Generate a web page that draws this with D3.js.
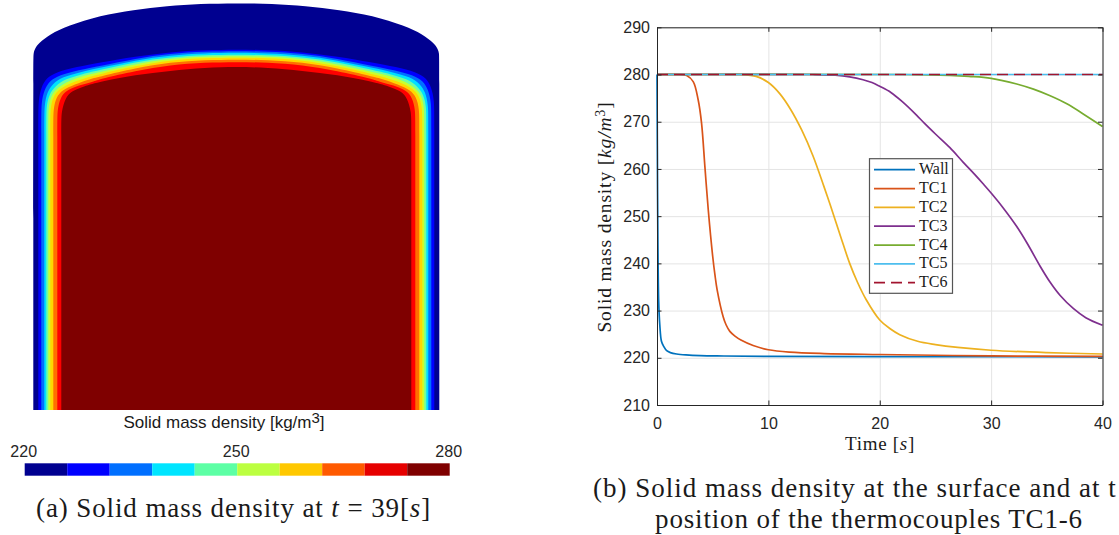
<!DOCTYPE html>
<html>
<head>
<meta charset="utf-8">
<script src="https://cdn.jsdelivr.net/npm/d3@7"></script>
<style>
  body { margin: 0; background: #fff; }
  svg { display: block; }
  .tick text { font-family: "Liberation Sans", sans-serif; font-size: 16px; fill: #262626; }
  .cap { font-family: "Liberation Serif", serif; fill: #1a1a1a; }
</style>
</head>
<body>
<svg id="fig" width="1119" height="535"></svg>
<script>

// left panel, colour levels and contours: [radius, height]
var levelColors = ['#000090','#0000ff','#006fff','#00e5ff','#5dffa5','#bcff40','#ffc800','#ff5a00','#e60000','#7f0000'];
var fieldColors = ['#000090','#0000ff','#0070ff','#00e0ff','#70ffa0','#c8ff30','#ffd800','#ff7000','#ff0000','#7f0000'];
var levelEdges = [220,226,232,238,244,250,256,262,268,274,280];
var barTicks = [220,250,280];

var bodyOutline = [[203,0],[203,200],[203,350],[202.8,357],[201.5,361],[198,366.5],[186,376],[169,384],[136,394.5],[103,400],[69,404],[36,406.2],[0,406.8]];
var contour226 = [[198,0],[198,200],[198,290],[198,310],[195,323],[190,332],[180,338],[160,343],[136,347.5],[101,353.5],[66,358],[31,360],[0,360.5]];
var contour232 = [[195,0],[195,200],[195,288],[195,308],[192,320],[187,329],[177,335],[158,340],[136,344],[101,351.5],[66,356.5],[31,358.5],[0,359]];
var contour238 = [[192,0],[192,200],[192,288],[192,305],[189,318],[184,326],[174,333],[156,338],[136,342],[101,349.8],[66,354.8],[31,356.8],[0,357.3]];
var contour244 = [[190,0],[190,200],[190,287],[190,304],[187,316],[181,324],[171,331],[154,336],[136,340],[101,348],[66,353],[31,355],[0,355.5]];
var contour250 = [[188,0],[188,200],[188,287],[188,303],[185,315],[179,322],[168,329],[152,334.5],[136,338],[101,346],[66,351.5],[31,353.5],[0,354]];
var contour256 = [[186,0],[186,200],[186,286],[186,302],[183,314],[177,321],[165,327.5],[148,333],[136,336],[101,344],[66,350],[31,352],[0,352.5]];
var contour262 = [[183,0],[183,200],[183,286],[183,301],[180,313],[174,320],[162,325.5],[146,331],[136,333.5],[101,341.8],[66,347.8],[31,350],[0,350.5]];
var contour268 = [[179,0],[179,200],[179,286],[179,300],[176,312.5],[170,319.5],[158,324.5],[141,329],[136,331],[101,339],[66,345],[31,347.5],[0,348]];
var contour274 = [[175,0],[175,200],[175,285],[175,298],[171,312],[165,319],[153,323.5],[136,328.5],[101,335],[66,339.3],[31,342.3],[0,343.3]];

// right panel, series
var wallT = [0,0.03,0.08,0.15,0.25,0.4,0.6,0.87,1.2,1.76,2.6,3.9,6,10,20,40];
var wallV = [280,265,245,232,227,223.5,222.4,221.5,221.1,220.8,220.6,220.45,220.38,220.3,220.25,220.2];
var tc1T = [0,2,2.66,3.25,3.7,4,4.3,4.6,5,5.2,5.4,5.94,6.2,6.54,7,7.58,8.63,10,11.9,15,20,30,40];
var tc1V = [280,280,279.8,278.5,274.6,269.7,260.5,251.4,241.5,237.6,234.4,228.7,227,225.6,224.6,223.7,222.6,221.7,221.2,220.9,220.7,220.4,220.3];
var tc2T = [0,6.5,7.4,8.9,10,11,12,13,14,15,15.55,16.5,17.3,18,18.76,20,20.9,21.8,23.4,25,27,30,35,40];
var tc2V = [280,280,280,279.6,278.3,276,272.6,268.2,262.8,256.2,252.4,245.6,240,236,232.4,228,226.2,224.9,223.5,222.8,222.2,221.6,221.1,220.8];
var tc3T = [0,14,16,17.3,18.5,19.3,20,21,22,23.3,24,25,26.3,27.5,28.5,29.3,30,31,32.3,33.3,34.4,35.3,36.2,37.4,38.5,40];
var tc3V = [280,280,279.85,279.5,278.9,278.3,277.5,276.2,274.3,271.4,269.7,267.4,264.5,261.4,258.9,256.8,254.9,252,247.8,244,239.4,236,233.2,230.4,228.5,226.9];
var tc4T = [0,22,26.3,28,30,32.3,33.8,35.3,36.8,38.3,40];
var tc4V = [280,280,279.8,279.6,279.2,278,276.9,275.5,273.8,271.6,269];
var tc5T = [0,40];
var tc5V = [280,280];
var tc6T = [0,40];
var tc6V = [280,280];

var seriesNames = ['Wall','TC1','TC2','TC3','TC4','TC5','TC6'];
var seriesColors = ['#0072bd','#d95319','#edb120','#7e2f8e','#77ac30','#4dbeee','#a2142f'];
var xTicks = [0,10,20,30,40];
var yTicks = [210,220,230,240,250,260,270,280,290];

var svg = d3.select('#fig');

function drawField(){

  var x = d3.scaleLinear().domain([-203,203]).range([33.3,439.3]);
  var y = d3.scaleLinear().domain([0,407]).range([410,3]);

  var line = d3.line()
    .x(function(d){ return x(d[0]); })
    .y(function(d){ return y(d[1]); })
    .curve(d3.curveBasis);

  var shapes = [bodyOutline,contour226,contour232,contour238,contour244,contour250,contour256,contour262,contour268,contour274];

  // each level is painted on top of the one outside it
  shapes.forEach(function(profile,i){
    var left = profile.map(function(p){ return [-p[0],p[1]]; });
    var right = profile.slice(0,-1).reverse();
    svg.append('path')
      .attr('d', line(left.concat(right)) + 'Z')
      .attr('fill', fieldColors[i]);
  });

  var title = svg.append('text')
    .attr('x',224).attr('y',428)
    .attr('text-anchor','middle')
    .style('font-family','"Liberation Sans", sans-serif')
    .style('font-size','17px')
    .style('fill','#1a1a1a');
  title.append('tspan').text('Solid mass density [kg/m');
  title.append('tspan').attr('dy',-5).style('font-size','15px').text('3');
  title.append('tspan').attr('dy',5).text(']');

  // colour bar
  var c = d3.scaleLinear().domain([220,280]).range([24.7,449.7]);
  svg.selectAll('rect.level')
    .data(levelColors)
    .join('rect')
    .attr('class','level')
    .attr('x', function(d,i){ return c(levelEdges[i]); })
    .attr('width', function(d,i){ return c(levelEdges[i+1]) - c(levelEdges[i]); })
    .attr('y',463.3)
    .attr('height',12.4)
    .attr('fill', function(d){ return d; });

  var barAxis = svg.append('g')
    .attr('transform','translate(0,462)')
    .call(d3.axisTop(c).tickValues(barTicks).tickSize(0).tickPadding(5));
  barAxis.select('.domain').remove();
  barAxis.selectAll('text').attr('dx',-1.5);
}

function drawLines(){

  var left = 657, right = 1102.5, top = 27.3, bottom = 405;
  var x = d3.scaleLinear().domain([0,40]).range([left,right]);
  var y = d3.scaleLinear().domain([210,290]).range([bottom,top]);

  // grid
  var gx = svg.append('g')
    .attr('transform','translate(0,'+bottom+')')
    .call(d3.axisBottom(x).tickValues(xTicks).tickSize(-(bottom-top)).tickFormat(''));
  var gy = svg.append('g')
    .attr('transform','translate('+left+',0)')
    .call(d3.axisLeft(y).tickValues(yTicks).tickSize(-(right-left)).tickFormat(''));
  gx.select('.domain').remove();
  gy.select('.domain').remove();
  gx.selectAll('line').attr('stroke','#e4e4e4');
  gy.selectAll('line').attr('stroke','#e4e4e4');

  var line = d3.line()
    .x(function(d){ return x(d[0]); })
    .y(function(d){ return y(d[1]); })
    .curve(d3.curveCatmullRom.alpha(0.5));

  var allT = [wallT,tc1T,tc2T,tc3T,tc4T,tc5T,tc6T];
  var allV = [wallV,tc1V,tc2V,tc3V,tc4V,tc5V,tc6V];

  seriesNames.forEach(function(name,i){
    var pts = allT[i].map(function(t,j){ return [t,allV[i][j]]; });
    svg.append('path')
      .attr('d', line(pts))
      .attr('fill','none')
      .attr('stroke', seriesColors[i])
      .attr('stroke-width',1.7)
      .attr('stroke-dasharray', name == 'TC6' ? '11,6' : null);
  });

  // box, ticks point inwards on all four sides
  function styleAxis(g){
    g.selectAll('.domain').attr('stroke','#262626');
    g.selectAll('line').attr('stroke','#262626');
  }
  var ax = svg.append('g').attr('transform','translate(0,'+bottom+')')
    .call(d3.axisBottom(x).tickValues(xTicks).tickSizeInner(-4.5).tickSizeOuter(0).tickPadding(13));
  var ay = svg.append('g').attr('transform','translate('+left+',0)')
    .call(d3.axisLeft(y).tickValues(yTicks).tickSizeInner(-4.5).tickSizeOuter(0).tickPadding(7));
  var at = svg.append('g').attr('transform','translate(0,'+top+')')
    .call(d3.axisTop(x).tickValues(xTicks).tickSizeInner(-4.5).tickSizeOuter(0).tickFormat(''));
  var ar = svg.append('g').attr('transform','translate('+right+',0)')
    .call(d3.axisRight(y).tickValues(yTicks).tickSizeInner(-4.5).tickSizeOuter(0).tickFormat(''));
  [ax,ay,at,ar].forEach(styleAxis);

  // axis titles
  var xl = svg.append('text').attr('class','cap')
    .attr('x',880).attr('y',450).attr('text-anchor','middle')
    .style('font-size','19px').style('letter-spacing','0.7px');
  xl.append('tspan').text('Time [');
  xl.append('tspan').style('font-style','italic').text('s');
  xl.append('tspan').text(']');

  var yl = svg.append('text').attr('class','cap')
    .attr('transform','translate(611,217) rotate(-90)')
    .attr('text-anchor','middle')
    .style('font-size','19.5px').style('letter-spacing','0.85px');
  yl.append('tspan').text('Solid mass density [');
  yl.append('tspan').style('font-style','italic').text('kg/m');
  yl.append('tspan').attr('dy',-6).style('font-size','14px').text('3');
  yl.append('tspan').attr('dy',6).text(']');

  // legend
  var lg = svg.append('g').attr('transform','translate(869.5,158.7)');
  lg.append('rect')
    .attr('width',83).attr('height',134.6)
    .attr('fill','#fff').attr('stroke','#555').attr('stroke-width',1.2);
  var rows = d3.scalePoint().domain(seriesNames).range([11,124]);
  seriesNames.forEach(function(name,i){
    lg.append('line')
      .attr('x1',4.5).attr('x2',45.5)
      .attr('y1',rows(name)).attr('y2',rows(name))
      .attr('stroke',seriesColors[i]).attr('stroke-width',1.7)
      .attr('stroke-dasharray', name == 'TC6' ? '11,6' : null);
    lg.append('text').attr('class','cap')
      .attr('x',49.5).attr('y',rows(name)+4.5)
      .style('font-size','16px')
      .text(name);
  });
}

function drawCaptions(){

  var a = svg.append('text').attr('class','cap')
    .attr('x',36).attr('y',517)
    .style('font-size','27px').style('letter-spacing','0.89px');
  a.append('tspan').text('(a) Solid mass density at ');
  a.append('tspan').style('font-style','italic').text('t');
  a.append('tspan').text(' = 39[');
  a.append('tspan').style('font-style','italic').text('s');
  a.append('tspan').text(']');

  // the source figure is cropped right after this "t"
  svg.append('text').attr('class','cap')
    .attr('x',593).attr('y',497)
    .style('font-size','27px').style('letter-spacing','1px')
    .text('(b) Solid mass density at the surface and at t');
  svg.append('text').attr('class','cap')
    .attr('x',869).attr('y',528)
    .attr('text-anchor','middle')
    .style('font-size','27px').style('letter-spacing','0.84px')
    .text('position of the thermocouples TC1-6');
}

drawField();
drawLines();
drawCaptions();

</script>
</body>
</html>
